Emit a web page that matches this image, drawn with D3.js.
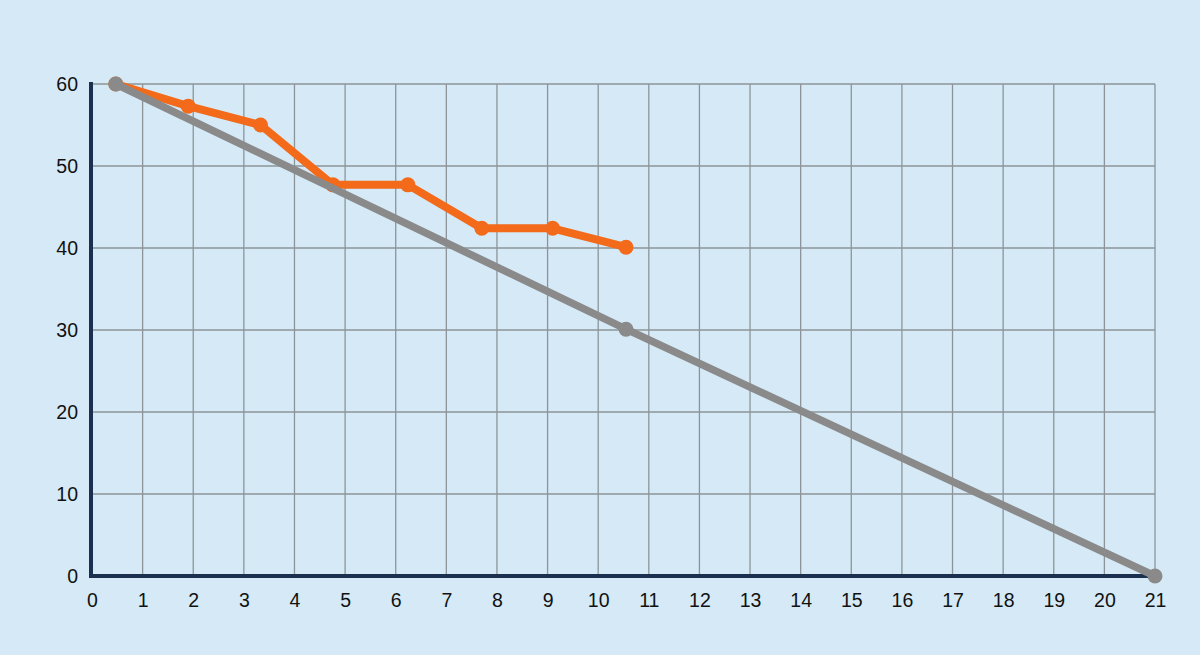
<!DOCTYPE html>
<html>
  <head>
    <meta charset="utf-8">
    <title>Burndown</title>
    <script src="https://cdn.jsdelivr.net/npm/d3@7"></script>
    <style>
      html, body { margin:0; padding:0; background:#d5eaf6; }
      svg { display:block; }
    </style>
  </head>
  <body>
    <svg id="chart" width="1200" height="655"></svg>
    <script>
      // x ticks (days) and y ticks
      var xTicks = d3.range(0, 22);
      var yTicks = [0, 10, 20, 30, 40, 50, 60];

      // actual remaining work
      var actualX = [0.47, 1.9, 3.33, 4.76, 6.24, 7.7, 9.1, 10.55];
      var actualY = [60, 57.3, 55, 47.7, 47.7, 42.4, 42.4, 40.1];

      // ideal line
      var idealX = [0.47, 10.55, 21];
      var idealY = [60, 30.1, 0];

      var svg = d3.select("#chart");
      svg.append("rect").attr("width", 1200).attr("height", 655).attr("fill", "#d5eaf6");

      var x = d3.scaleLinear().domain([0, 21]).range([92, 1155]);
      var y = d3.scaleLinear().domain([0, 60]).range([576, 84]);

      // grid
      var grid = svg.append("g").attr("stroke", "#8d9499").attr("stroke-width", 1.3);
      grid.selectAll(".v").data(xTicks.slice(1)).enter().append("line")
        .attr("x1", function(d) { return x(d); }).attr("x2", function(d) { return x(d); })
        .attr("y1", y(60)).attr("y2", y(0));
      grid.selectAll(".h").data(yTicks.slice(1)).enter().append("line")
        .attr("x1", x(0)).attr("x2", x(21))
        .attr("y1", function(d) { return y(d); }).attr("y2", function(d) { return y(d); });

      // axes
      var xAxis = svg.append("g").attr("transform", "translate(0," + y(0) + ")")
        .call(d3.axisBottom(x).tickValues(xTicks).tickSize(0).tickPadding(17).tickFormat(d3.format("d")));
      var yAxis = svg.append("g").attr("transform", "translate(" + x(0) + ",0)")
        .call(d3.axisLeft(y).tickValues(yTicks).tickSize(0).tickPadding(14).tickFormat(d3.format("d")));
      [xAxis, yAxis].forEach(function(a) {
        a.select(".domain").remove();
        a.selectAll("text").attr("fill", "#111").style("font-family", "Liberation Sans, Arial, sans-serif").style("font-size", "19.5px");
      });

      svg.append("line").attr("x1", x(0) - 1).attr("x2", x(0) - 1).attr("y1", y(60) - 2).attr("y2", y(0) + 2)
        .attr("stroke", "#1b2f4f").attr("stroke-width", 4);
      svg.append("line").attr("x1", x(0) - 3).attr("x2", x(21)).attr("y1", y(0)).attr("y2", y(0))
        .attr("stroke", "#1b2f4f").attr("stroke-width", 4);

      var line = d3.line().x(function(d) { return x(d[0]); }).y(function(d) { return y(d[1]); });

      var ideal = d3.zip(idealX, idealY);
      var actual = d3.zip(actualX, actualY);

      svg.append("path").attr("d", line(actual)).attr("fill", "none")
        .attr("stroke", "#f26a1a").attr("stroke-width", 8).attr("stroke-linejoin", "round");
      svg.selectAll(".ap").data(actual).enter().append("circle")
        .attr("cx", function(d) { return x(d[0]); }).attr("cy", function(d) { return y(d[1]); })
        .attr("r", 7.5).attr("fill", "#f26a1a");

      svg.append("path").attr("d", line(ideal)).attr("fill", "none")
        .attr("stroke", "#8a8a8a").attr("stroke-width", 7.5);
      svg.selectAll(".ip").data(ideal).enter().append("circle")
        .attr("cx", function(d) { return x(d[0]); }).attr("cy", function(d) { return y(d[1]); })
        .attr("r", 7.5).attr("fill", "#8a8a8a");
    </script>
  </body>
</html>
